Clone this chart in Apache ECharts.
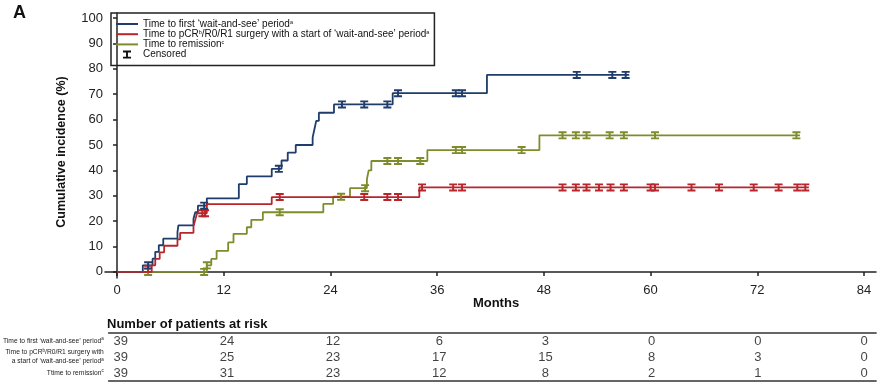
<!DOCTYPE html>
<html>
<head>
<meta charset="utf-8">
<script src="https://cdn.jsdelivr.net/npm/echarts@6/dist/echarts.min.js"></script>
<style>html,body{margin:0;padding:0;background:#fff}#c{width:886px;height:386px}</style>
</head>
<body>
<div id="c"></div>
<script>
// ---- data ----
var xTicks = [0, 12, 24, 36, 48, 60, 72, 84];
var yTicks = [0, 10, 20, 30, 40, 50, 60, 70, 80, 90, 100];

// [months, cumulative incidence %]
var firstWS = [[0,0],[2.9,2.6],[4.0,5.2],[4.3,7.9],[4.7,10.5],[5.2,13.1],[6.8,15.7],[6.9,18.3],[8.6,20.9],[8.8,23.5],[9.1,26.1],[10.1,29.0],[13.7,34.6],[14.6,37.6],[17.4,40.6],[18.5,43.9],[19.2,47.0],[20.1,50.0],[22.0,53.0],[22.2,56.2],[22.4,59.5],[22.7,62.7],[24.4,66.0],[31.0,70.4],[41.6,77.6],[57.6,77.6]];
var surgeryWS = [[0,0],[3.9,2.6],[4.3,5.1],[4.8,7.7],[5.3,10.3],[6.8,12.8],[7.1,15.4],[8.6,18.0],[8.8,20.5],[9.0,23.1],[10.1,26.7],[17.4,29.5],[34.0,33.3],[77.8,33.3]];
var remission = [[0,0],[10.1,2.6],[10.6,5.1],[11.2,8.3],[12.5,11.6],[13.1,15.0],[14.6,17.6],[15.1,20.5],[16.4,23.5],[23.2,26.8],[24.3,29.6],[26.2,33.0],[28.1,36.5],[28.3,40.0],[28.6,43.7],[34.9,48.0],[47.5,53.8],[76.8,53.8]];

var firstCens = [[3.5,2.6],[9.8,26.1],[18.2,40.6],[25.3,66.0],[27.8,66.0],[30.4,66.0],[31.6,70.4],[38.1,70.4],[38.8,70.4],[51.7,77.6],[55.7,77.6],[57.2,77.6]];
var surgeryCens = [[3.5,1.2],[9.6,23.1],[9.9,23.1],[18.3,29.5],[27.8,29.5],[30.4,29.5],[31.6,29.5],[34.3,33.3],[37.8,33.3],[38.8,33.3],[50.1,33.3],[51.6,33.3],[52.8,33.3],[54.2,33.3],[55.5,33.3],[57.0,33.3],[60.0,33.3],[60.5,33.3],[64.6,33.3],[67.7,33.3],[71.6,33.3],[74.4,33.3],[76.5,33.3],[77.4,33.3]];
var remissionCens = [[3.5,0],[9.8,0],[10.1,2.6],[18.3,23.5],[25.2,29.6],[27.9,33.0],[30.4,43.7],[31.6,43.7],[34.1,43.7],[38.1,48.0],[38.8,48.0],[45.5,48.0],[50.1,53.8],[51.6,53.8],[52.8,53.8],[55.4,53.8],[57.0,53.8],[60.5,53.8],[76.4,53.8]];

var riskMonths = [0, 12, 24, 36, 48, 60, 72, 84];
var riskFirst = [39, 24, 12, 6, 3, 0, 0, 0];
var riskSurgery = [39, 25, 23, 17, 15, 8, 3, 0];
var riskRemission = [39, 31, 23, 12, 8, 2, 1, 0];
var riskRows = ['first', 'surgery', 'remission'];

var seriesNames = ['first', 'surgery', 'remission', 'Censored'];
var colors = {first: '#1f3c6b', surgery: '#b8262c', remission: '#7f8c2b'};
// ---------------

var FONT = 'Liberation Sans, Arial, sans-serif';
var censorPath = 'path://M0,0h10v2.4h-10z M3.8,0h2.4v10h-2.4z M0,7.6h10v2.4h-10z';
var lineIcon = 'path://M0,0h22v2h-22z';

var legendText = {
  first: '{t|Time to first \u2018wait-and-see\u2019 period}{s|a}',
  surgery: '{t|Time to pCR}{s|b}{t|/R0/R1 surgery with a start of \u2018wait-and-see\u2019 period}{s|a}',
  remission: '{t|Time to remission}{s|c}',
  Censored: '{t|Censored}'
};
var rowText = {
  first: '{r|Time to first \u2018wait-and-see\u2019 period}{q|a}',
  surgery: '{r|Time to pCR}{q|b}{r|/R0/R1 surgery with}\n{r|a start of \u2018wait-and-see\u2019 period}{q|a}',
  remission: '{r|Ttime to remission}{q|c}'
};

function censData(arr, color) {
  return arr.map(function (p) { return {value: p, itemStyle: {color: color}}; });
}
function riskData(arr, row) {
  return arr.map(function (v, i) { return [riskMonths[i], row, v]; });
}

var chart = echarts.init(document.getElementById('c'), null, {renderer: 'canvas'});
var axisCol = '#222';
chart.setOption({
  animation: false,
  textStyle: {fontFamily: FONT},
  title: {
    text: 'Number of patients at risk', left: 107, top: 318, padding: 0,
    textStyle: {fontFamily: FONT, fontSize: 13, fontWeight: 'bold', color: '#111'}
  },
  graphic: [
    {type: 'text', x: 13, y: 4, style: {text: 'A', fontFamily: FONT, fontSize: 18, fontWeight: 'bold', fill: '#111'}},
    {type: 'text', x: 62, y: 152, rotation: Math.PI / 2, style: {text: 'Cumulative incidence (%)', fontFamily: FONT, fontSize: 12.5, fontWeight: 'bold', fill: '#111', align: 'center', verticalAlign: 'middle'}},
    {type: 'text', x: 496, y: 303, style: {text: 'Months', fontFamily: FONT, fontSize: 13, fontWeight: 'bold', fill: '#111', align: 'center', verticalAlign: 'middle'}}
  ],
  legend: {
    data: [
      {name: 'first', icon: lineIcon, itemStyle: {color: colors.first}},
      {name: 'surgery', icon: lineIcon, itemStyle: {color: colors.surgery}},
      {name: 'remission', icon: lineIcon, itemStyle: {color: colors.remission}},
      {name: 'Censored', icon: censorPath, itemStyle: {color: '#111'}}
    ],
    orient: 'vertical', left: 111, top: 13,
    padding: [6, 5, 6, 5], borderColor: '#222', borderWidth: 1.5, borderRadius: 0,
    itemWidth: 22, itemHeight: 8, itemGap: 0.2, selectedMode: false,
    formatter: function (n) { return legendText[n]; },
    textStyle: {
      fontFamily: FONT, fontSize: 10, color: '#111',
      rich: {
        t: {fontFamily: FONT, fontSize: 10, color: '#111', lineHeight: 10},
        s: {fontFamily: FONT, fontSize: 5.5, color: '#111', verticalAlign: 'top', lineHeight: 6}
      }
    }
  },
  grid: [
    {left: 105, right: 10, top: 13, bottom: 108},
    {left: 105, right: 10, top: 333, bottom: 5}
  ],
  xAxis: [
    {
      gridIndex: 0, type: 'value', min: -1.35, max: 85.35,
      axisLine: {show: true, lineStyle: {color: axisCol, width: 1.5}},
      axisTick: {show: true, customValues: xTicks, length: 4, lineStyle: {color: axisCol, width: 1.5}},
      axisLabel: {customValues: xTicks, fontFamily: FONT, fontSize: 13, color: '#222', margin: 6},
      splitLine: {show: false}
    },
    {
      gridIndex: 1, type: 'value', min: -1.35, max: 85.35, position: 'bottom',
      axisLine: {show: true, lineStyle: {color: '#666', width: 1.8}},
      axisTick: {show: false}, axisLabel: {show: false}, splitLine: {show: false}
    },
    {
      gridIndex: 1, type: 'value', min: -1.35, max: 85.35, position: 'top',
      axisLine: {show: true, lineStyle: {color: '#666', width: 1.8}},
      axisTick: {show: false}, axisLabel: {show: false}, splitLine: {show: false}
    }
  ],
  yAxis: [
    {
      gridIndex: 0, type: 'value', min: -2.4, max: 102,
      axisLine: {show: true, lineStyle: {color: axisCol, width: 1.5}},
      axisTick: {show: true, customValues: yTicks, length: 4, lineStyle: {color: axisCol, width: 1.5}},
      axisLabel: {customValues: yTicks, fontFamily: FONT, fontSize: 13, color: '#222', margin: 2},
      splitLine: {show: false}
    },
    {
      gridIndex: 1, type: 'category', data: riskRows, inverse: true,
      axisLine: {show: false}, axisTick: {show: false}, splitLine: {show: false},
      axisLabel: {
        margin: 5, formatter: function (v) { return rowText[v]; },
        rich: {
          r: {fontFamily: FONT, fontSize: 6.7, color: '#222', lineHeight: 9, align: 'right'},
          q: {fontFamily: FONT, fontSize: 4.5, color: '#222', verticalAlign: 'top', lineHeight: 5}
        }
      }
    }
  ],
  series: [
    {name: 'first', type: 'line', step: 'end', data: firstWS, showSymbol: false, symbol: 'none', color: colors.first, lineStyle: {width: 1.8, color: colors.first}, z: 3},
    {name: 'surgery', type: 'line', step: 'end', data: surgeryWS, showSymbol: false, symbol: 'none', color: colors.surgery, lineStyle: {width: 1.8, color: colors.surgery}, z: 3},
    {name: 'remission', type: 'line', step: 'end', data: remission, showSymbol: false, symbol: 'none', color: colors.remission, lineStyle: {width: 1.8, color: colors.remission}, z: 2},
    {
      name: 'Censored', type: 'scatter', symbol: censorPath, symbolSize: [8, 8], z: 5,
      itemStyle: {color: '#111', opacity: 1},
      data: censData(remissionCens, colors.remission).concat(censData(surgeryCens, colors.surgery), censData(firstCens, colors.first))
    },
    {
      name: 'riskTable', type: 'scatter', xAxisIndex: 1, yAxisIndex: 1, symbolSize: 1,
      itemStyle: {color: 'transparent'}, silent: true,
      label: {show: true, position: 'inside', formatter: function (p) { return p.value[2]; }, fontFamily: FONT, fontSize: 13, color: '#111'},
      data: riskData(riskFirst, 'first').concat(riskData(riskSurgery, 'surgery'), riskData(riskRemission, 'remission'))
    }
  ]
});
</script>
</body>
</html>
